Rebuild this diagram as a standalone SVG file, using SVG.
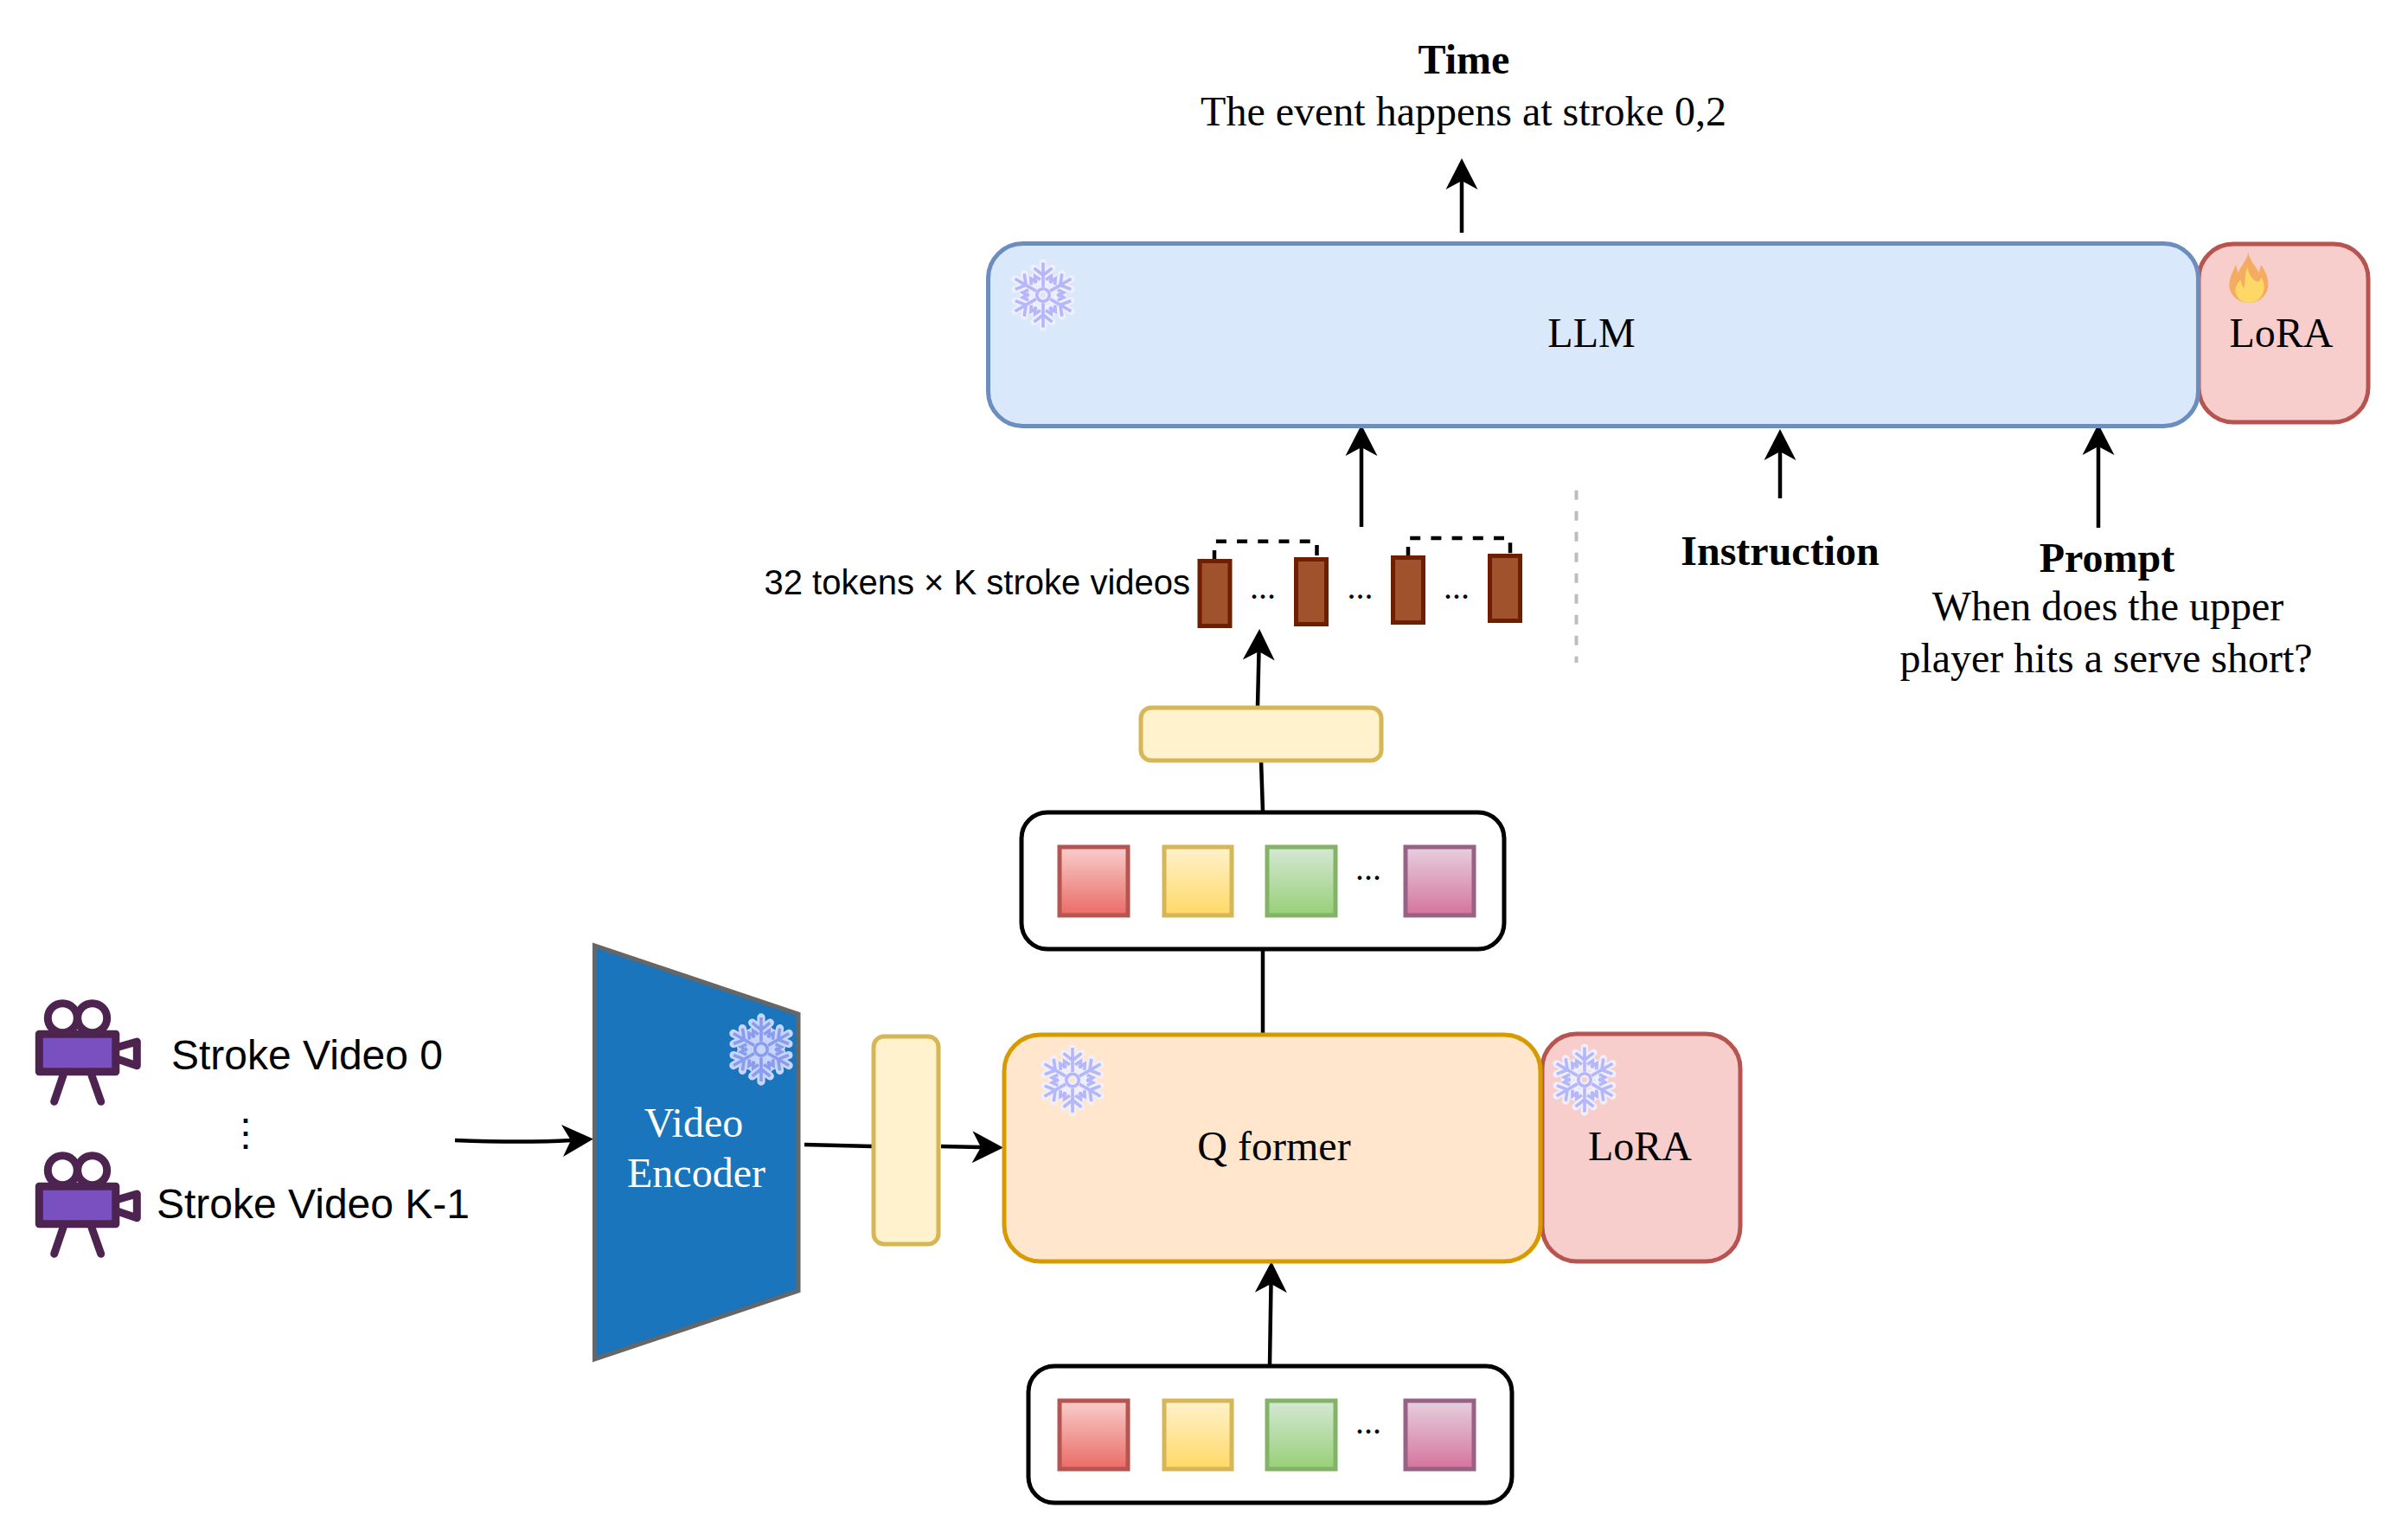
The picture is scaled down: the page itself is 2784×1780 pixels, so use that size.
<svg xmlns="http://www.w3.org/2000/svg" width="2784" height="1780" viewBox="0 0 2784 1780">
<style>
text{font-family:"Liberation Serif","Times New Roman",serif;font-size:48px;fill:#000}
.sans{font-family:"Liberation Sans",Arial,sans-serif;font-size:48px}
.mid{text-anchor:middle}
.b{font-weight:bold}
.w{fill:#fff}
.dots{font-size:40px;text-anchor:middle}
.con{fill:none;stroke:#000;stroke-width:4.5}
.arrow{marker-end:url(#head)}
.dash{fill:none;stroke:#000;stroke-width:4.5;stroke-dasharray:12 12.2}
.box{fill:#fff;stroke:#000;stroke-width:5}
.y{fill:#fff2cc;stroke:#d6b656;stroke-width:5}
.lora{fill:#f8cecc;stroke:#b85450;stroke-width:5}
.bar{fill:#a0522d;stroke:#6d1f00;stroke-width:5}
.s1{fill:url(#gr);stroke:#b85450;stroke-width:5}
.s2{fill:url(#gy);stroke:#d6b656;stroke-width:5}
.s3{fill:url(#gg);stroke:#82b366;stroke-width:5}
.s4{fill:url(#gp);stroke:#996185;stroke-width:5}
.fh{fill:none;stroke:#eef0ff;stroke-width:8;stroke-linecap:round;stroke-linejoin:round}
.fc{fill:none;stroke:#b6b6fb;stroke-width:3.5}
.fh2{fill:none;stroke:#c8d6ff;stroke-width:9;stroke-linecap:round;stroke-linejoin:round}
.fc2{fill:none;stroke:#8a9cee;stroke-width:3.5}
.cam{fill:none;stroke:#4d2350;stroke-width:9;stroke-linejoin:round;stroke-linecap:round}
</style>
<defs>
<marker id="head" markerUnits="userSpaceOnUse" markerWidth="38" markerHeight="38" refX="10" refY="18.5" orient="auto" overflow="visible"><path d="M36 18.5 L0 0 L10 18.5 L0 37Z" fill="#000"/></marker>
<linearGradient id="gr" x1="0" y1="0" x2="0" y2="1"><stop offset="0" stop-color="#f8cecc"/><stop offset="1" stop-color="#ea6b66"/></linearGradient>
<linearGradient id="gy" x1="0" y1="0" x2="0" y2="1"><stop offset="0" stop-color="#fff2cc"/><stop offset="1" stop-color="#ffd966"/></linearGradient>
<linearGradient id="gg" x1="0" y1="0" x2="0" y2="1"><stop offset="0" stop-color="#d5e8d4"/><stop offset="1" stop-color="#97d077"/></linearGradient>
<linearGradient id="gp" x1="0" y1="0" x2="0" y2="1"><stop offset="0" stop-color="#e6d0de"/><stop offset="1" stop-color="#d5739d"/></linearGradient>
<path id="arm" d="M0 -9V-36M-10 -30L0 -22L10 -30M-9 -13L-9 -21L-3 -17M9 -13L9 -21L3 -17"/>
<g id="flake">
<use href="#arm"/><use href="#arm" transform="rotate(60)"/><use href="#arm" transform="rotate(120)"/><use href="#arm" transform="rotate(180)"/><use href="#arm" transform="rotate(240)"/><use href="#arm" transform="rotate(300)"/>
<circle r="7"/>
</g>
<g id="camera">
<rect class="cam" x="45.3" y="1195.3" width="88.5" height="43.5" style="fill:#7a4fbf"/>
<circle class="cam" cx="72.3" cy="1176.7" r="17"/>
<circle class="cam" cx="106.7" cy="1176.7" r="17"/>
<path class="cam" d="M73 1243L62.7 1273.3M106 1243L116.7 1273.3M134 1211L158.3 1204V1231.7L134 1223.5"/>
</g>
<g id="tokens">
<rect class="s1" x="1225" y="0" width="79" height="79"/>
<rect class="s2" x="1346" y="0" width="78" height="79"/>
<rect class="s3" x="1465" y="0" width="79" height="79"/>
<rect class="s4" x="1625" y="0" width="79" height="79"/>
<text class="dots" x="1582" y="38">...</text>
</g>
</defs>
<rect width="2784" height="1780" fill="#fff"/>

<g id="connectors">
<path class="con arrow" d="M1690 269V209"/>
<path class="con arrow" d="M1574 609V517"/>
<path class="con arrow" d="M2058 576V522"/>
<path class="con arrow" d="M2426 610V516"/>
<path class="con" d="M1458 879L1460 938"/>
<path class="con arrow" d="M1454 817L1455.5 753"/>
<path class="con" d="M1460 1097V1195"/>
<path class="con arrow" d="M1468 1578L1469.500 1484"/>
<path class="con arrow" d="M526 1318Q606 1321 660 1318"/>
<path class="con" d="M930 1323L1009 1325"/>
<path class="con arrow" d="M1088 1325L1134 1326"/>
<path class="dash" d="M1404 648V625.7H1522.5V644"/>
<path class="dash" d="M1628 644V622H1746V640"/>
<path d="M1822.5 566.7V766" fill="none" stroke="#bdbdbd" stroke-width="4" stroke-dasharray="11 13"/>
</g>

<g id="video0">
<use href="#camera"/>
<text class="sans" x="198" y="1236">Stroke Video 0</text>
</g>
<g id="ellipsis">
<text class="sans" x="284" y="1324" text-anchor="middle" style="font-size:44px">⋮</text>
</g>
<g id="videoK">
<use href="#camera" y="176"/>
<text class="sans" x="181" y="1408">Stroke Video K-1</text>
</g>

<g id="video-encoder">
<path d="M687.5 1093V1571L923 1492V1172Z" fill="#1a75bc" stroke="#666" stroke-width="5"/>
<g transform="translate(880 1213) scale(1.03)"><use href="#flake" class="fh2"/><circle r="7" fill="#c8d6ff"/><use href="#flake" class="fc2"/></g>
<text class="mid w" x="802" y="1313.500">Video</text>
<text class="mid w" x="805" y="1371.500">Encoder</text>
</g>

<g id="feature-v"><rect class="y" x="1010" y="1198" width="75" height="240" rx="12"/></g>

<g id="lora-q">
<rect class="lora" x="1783" y="1195" width="229" height="263" rx="40"/>
<g transform="translate(1832 1248) scale(1.04)"><use href="#flake" class="fh"/><use href="#flake" class="fc"/></g>
<text class="mid" x="1896" y="1340.500">LoRA</text>
</g>
<g id="q-former">
<rect x="1161" y="1196" width="620" height="262" rx="42" fill="#ffe6cc" stroke="#d79b00" stroke-width="5"/>
<g transform="translate(1240 1248.5) scale(1.04)"><use href="#flake" class="fh"/><use href="#flake" class="fc"/></g>
<text class="mid" x="1473" y="1340.500">Q former</text>
</g>

<g id="tokens-top">
<rect class="box" x="1181" y="939" width="558" height="158" rx="30"/>
<use href="#tokens" y="979"/>
</g>
<g id="tokens-bottom">
<rect class="box" x="1189" y="1579" width="559" height="158" rx="30"/>
<use href="#tokens" y="1619"/>
</g>

<g id="feature-h"><rect class="y" x="1319" y="818" width="278" height="61" rx="12"/></g>

<g id="stroke-tokens">
<text class="sans" x="883.5" y="687" style="font-size:40px">32 tokens × K stroke videos</text>
<rect class="bar" x="1387" y="648.5" width="35" height="75"/>
<rect class="bar" x="1498.500" y="646.500" width="35" height="75"/>
<rect class="bar" x="1610.500" y="644.500" width="35" height="75"/>
<rect class="bar" x="1722.500" y="642.500" width="35" height="75"/>
<text class="dots" x="1460" y="692">...</text>
<text class="dots" x="1572.500" y="692">...</text>
<text class="dots" x="1684" y="692">...</text>
</g>

<g id="lora-top">
<rect class="lora" x="2542" y="282" width="196" height="206" rx="40"/>
<g transform="translate(2550 270) scale(.3333)">
<path fill="#f5ab62" d="M148 62C150 90 172 110 185 135C188 125 190 118 192 108C208 130 218 155 217 180C215 215 185 240 150 240C112 240 82 212 82 178C82 155 95 130 105 108C108 120 110 128 113 135C125 110 145 90 148 62Z"/>
<path fill="#fdd866" d="M145 118C135 135 140 165 132 190C128 185 125 170 122 160C108 175 100 190 104 205C110 228 130 240 150 240C180 240 203 215 203 185C203 172 198 160 192 150C190 165 185 170 175 165C160 158 150 140 145 118Z"/>
</g>
<text class="mid" x="2637.500" y="400.500">LoRA</text>
</g>
<g id="llm">
<rect x="1142.500" y="281.500" width="1399" height="211" rx="40" fill="#dae8fc" stroke="#6c8ebf" stroke-width="5"/>
<g transform="translate(1206 341) scale(1.04)"><use href="#flake" class="fh"/><use href="#flake" class="fc"/></g>
<text class="mid" x="1840" y="400.500">LLM</text>
</g>

<g id="output">
<text class="mid b" x="1692.500" y="84.500">Time</text>
<text class="mid" x="1692" y="144.500">The event happens at stroke 0,2</text>
</g>
<g id="instruction"><text class="mid b" x="2058" y="652.500">Instruction</text></g>
<g id="prompt">
<text class="mid b" x="2436" y="660.500">Prompt</text>
<text class="mid" x="2437" y="716.500">When does the upper</text>
<text class="mid" x="2435" y="776.500">player hits a serve short?</text>
</g>
</svg>
